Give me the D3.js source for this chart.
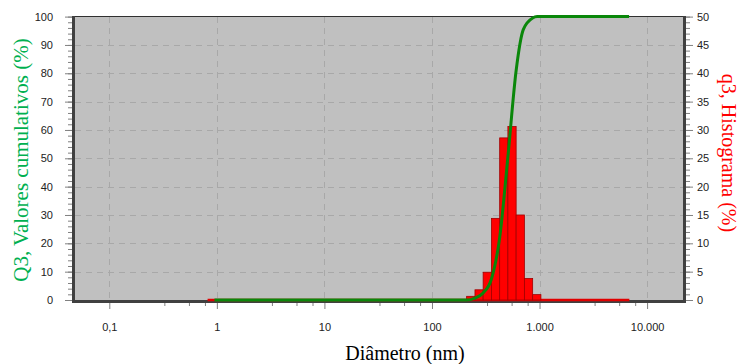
<!DOCTYPE html>
<html><head><meta charset="utf-8">
<script src="https://cdn.jsdelivr.net/npm/d3@7"></script>
<style>
html,body{margin:0;padding:0;background:#fff;}
svg{display:block;}
</style></head>
<body>
<svg id="chart" width="742" height="364"></svg>
<script>
// ---- data ----
const xTickValues = [0.1, 1, 10, 100, 1000, 10000];
const xTickLabels = ["0,1", "1", "10", "100", "1.000", "10.000"];
const leftTickValues = [0, 10, 20, 30, 40, 50, 60, 70, 80, 90, 100];
const rightTickValues = [0, 5, 10, 15, 20, 25, 30, 35, 40, 45, 50];
// histogram bins (nm) and q3 values (%)
const binEdges = [210, 251, 299, 357, 426, 508, 606, 723, 863, 1030];
const q3Values = [0.65, 1.8, 4.9, 14.4, 28.6, 30.6, 15.0, 3.8, 0.95];
const histRange = [0.82, 6840];
// cumulative Q3 (%)
const cumDiam = [0.95, 210, 251, 299, 357, 426, 508, 606, 706, 863, 950, 6800];
const cumValues = [0, 0, 0.7, 2.5, 7.4, 22, 50.5, 81, 95.4, 99.5, 100, 100];

// ---- layout ----
const svg = d3.select("#chart");
const L = 72, R = 686, T = 16, B = 301;
const x = d3.scaleLog().domain([0.045, 23000]).range([L, R]);
const yL = d3.scaleLinear().domain([0, 100]).range([300, 16.6]);
const yR = d3.scaleLinear().domain([0, 50]).range([300, 16.6]);

// background
svg.append("rect").attr("x", L).attr("y", T).attr("width", R - L).attr("height", B - T).attr("fill", "#c0c0c0");

// grid
const grid = svg.append("g").attr("stroke", "#a8a8a8").attr("stroke-width", 1).attr("stroke-dasharray", "6,5");
grid.selectAll("line.v").data(xTickValues).join("line")
  .attr("x1", d => Math.round(x(d)) + 0.5).attr("x2", d => Math.round(x(d)) + 0.5)
  .attr("y1", T + 1).attr("y2", B - 1);
grid.selectAll("line.h").data(leftTickValues.slice(1, -1)).join("line")
  .attr("x1", L + 3).attr("x2", R - 3)
  .attr("y1", d => Math.round(yL(d)) + 0.5).attr("y2", d => Math.round(yL(d)) + 0.5);

// axes
const tickColor = "#808080";
const labelFont = "'Liberation Sans', Arial, sans-serif";
// x minor ticks: linear quarters within each decade
const xMinor = [];
[0.1, 1, 10, 100, 1000].forEach(d => [0.25, 0.5, 0.75].forEach(f => xMinor.push(d + 9 * d * f)));
const xAxis = d3.axisBottom(x).tickValues(xTickValues).tickFormat((d, i) => xTickLabels[i]).tickSize(6).tickPadding(14);
const gx = svg.append("g").attr("transform", `translate(0,${B + 2})`).call(xAxis);
const gxm = svg.append("g").attr("transform", `translate(0,${B + 2})`)
  .call(d3.axisBottom(x).tickValues(xMinor).tickFormat("").tickSize(3));

const yAxisL = d3.axisLeft(yL).tickValues(leftTickValues).tickSize(7).tickPadding(12);
const gyl = svg.append("g").attr("transform", `translate(${L},0)`).call(yAxisL);
const gylm = svg.append("g").attr("transform", `translate(${L},0)`)
  .call(d3.axisLeft(yL).tickValues(d3.range(0, 101, 2)).tickFormat("").tickSize(4));

const yAxisR = d3.axisRight(yR).tickValues(rightTickValues).tickSize(7).tickPadding(4);
const gyr = svg.append("g").attr("transform", `translate(${R},0)`).call(yAxisR);
const gyrm = svg.append("g").attr("transform", `translate(${R},0)`)
  .call(d3.axisRight(yR).tickValues(d3.range(0, 51, 1)).tickFormat("").tickSize(4));

[gx, gxm, gyl, gylm, gyr, gyrm].forEach(g => {
  g.select(".domain").remove();
  g.selectAll("line").attr("stroke", tickColor);
  g.selectAll("text").attr("fill", "#222").style("font-family", labelFont).style("font-size", "11px");
});

// frame
svg.append("rect").attr("x", L + 0.5).attr("y", T + 0.5).attr("width", R - L - 1).attr("height", B - T + 1)
  .attr("fill", "none").attr("stroke", "#303030").attr("stroke-width", 1);
svg.append("line").attr("x1", L + 1.5).attr("x2", L + 1.5).attr("y1", T).attr("y2", B + 2).attr("stroke", "#404040").attr("stroke-width", 3);
svg.append("line").attr("x1", R - 1.5).attr("x2", R - 1.5).attr("y1", T).attr("y2", B + 2).attr("stroke", "#404040").attr("stroke-width", 3);
svg.append("line").attr("x1", L).attr("x2", R).attr("y1", B + 0.5).attr("y2", B + 0.5).attr("stroke", "#404040").attr("stroke-width", 3);

// histogram
const bars = q3Values.map((v, i) => ({x0: binEdges[i], x1: binEdges[i + 1], v}));
svg.append("line").attr("x1", x(histRange[0])).attr("x2", x(histRange[1]))
  .attr("y1", yR(0)).attr("y2", yR(0)).attr("stroke", "#e00000").attr("stroke-width", 2.5);
svg.append("g").selectAll("rect").data(bars).join("rect")
  .attr("x", d => x(d.x0)).attr("width", d => x(d.x1) - x(d.x0))
  .attr("y", d => yR(d.v)).attr("height", d => yR(0) - yR(d.v))
  .attr("fill", "#ff0000").attr("stroke", "#a00000").attr("stroke-width", 0.8);

// cumulative line
const cum = cumDiam.map((d, i) => [d, cumValues[i]]);
svg.append("path").datum(cum)
  .attr("d", d3.line().x(d => x(d[0])).y(d => yL(d[1])).curve(d3.curveMonotoneX))
  .attr("fill", "none").attr("stroke", "#0a870a").attr("stroke-width", 3).attr("stroke-linejoin", "round");

// axis titles
const serif = "'Liberation Serif', 'Times New Roman', serif";
svg.append("text").attr("transform", "translate(28,160) rotate(-90)").attr("text-anchor", "middle")
  .style("font-family", serif).style("font-size", "21px").attr("fill", "#00b050")
  .text("Q3, Valores cumulativos (%)");
svg.append("text").attr("transform", "translate(722,153) rotate(90)").attr("text-anchor", "middle")
  .style("font-family", serif).style("font-size", "20px").attr("fill", "#ff0000")
  .text("q3, Histograma (%)");
svg.append("text").attr("x", 405).attr("y", 360).attr("text-anchor", "middle")
  .style("font-family", serif).style("font-size", "20px").attr("fill", "#000")
  .text("Diâmetro (nm)");
</script>
</body></html>
